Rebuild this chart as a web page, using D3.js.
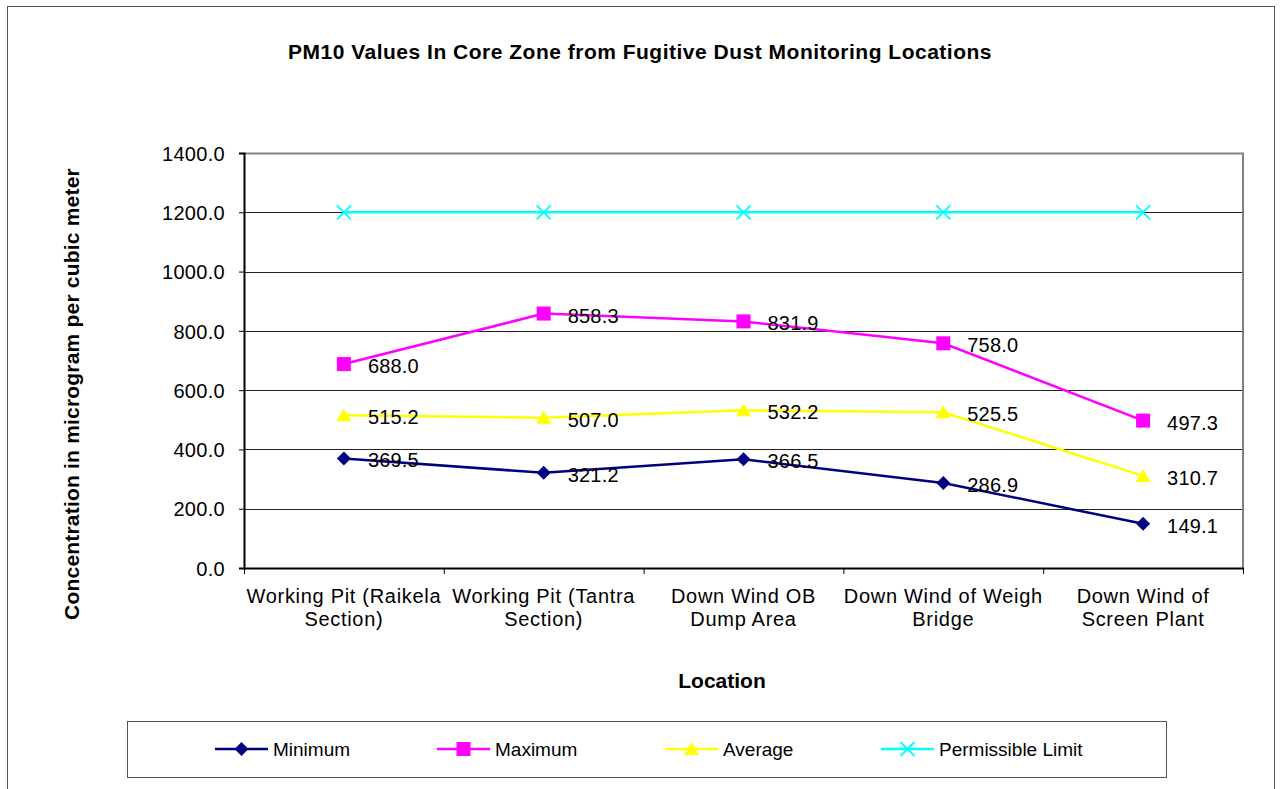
<!DOCTYPE html>
<html>
<head>
<meta charset="utf-8">
<script src="https://cdn.jsdelivr.net/npm/d3@7"></script>
<style>
  body { margin: 0; background: #fff; }
  text { font-family: "Liberation Sans", Arial, sans-serif; fill: #000; }
</style>
</head>
<body>
<div id="chart"></div>
<script>
// Data
var locations = [
  ["Working Pit (Raikela", "Section)"],
  ["Working Pit (Tantra", "Section)"],
  ["Down Wind OB", "Dump Area"],
  ["Down Wind of Weigh", "Bridge"],
  ["Down Wind of", "Screen Plant"]
];
var minimumValues = [369.5, 321.2, 366.5, 286.9, 149.1];
var maximumValues = [688.0, 858.3, 831.9, 758.0, 497.3];
var averageValues = [515.2, 507.0, 532.2, 525.5, 310.7];
var limitValues = [1200, 1200, 1200, 1200, 1200];
var yTicks = [0, 200, 400, 600, 800, 1000, 1200, 1400];

var seriesList = [
  { name: "Minimum", values: minimumValues, color: "#000080", marker: "diamond", labels: true },
  { name: "Maximum", values: maximumValues, color: "#FF00FF", marker: "square", labels: true },
  { name: "Average", values: averageValues, color: "#FFFF00", marker: "triangle", labels: true },
  { name: "Permissible Limit", values: limitValues, color: "#00FFFF", marker: "cross", labels: false }
];

var svgWidth = 1287;
var svgHeight = 789;

// plot area
var plot = { left: 244, top: 153, right: 1243, bottom: 568 };
var width = plot.right - plot.left;
var height = plot.bottom - plot.top;

var svg = d3.select("#chart")
  .append("svg")
    .attr("width", svgWidth)
    .attr("height", svgHeight);

// outer chart border
svg.append("rect")
  .attr("x", 7.5).attr("y", 6.5)
  .attr("width", 1267).attr("height", 800)
  .attr("fill", "none")
  .attr("stroke", "#555")
  .attr("stroke-width", 1);

// title
svg.append("text")
  .attr("x", 640).attr("y", 59)
  .attr("text-anchor", "middle")
  .style("font-size", "21px")
  .style("font-weight", "bold")
  .style("letter-spacing", "0.5px")
  .text("PM10 Values In Core Zone from Fugitive Dust Monitoring Locations");

var g = svg.append("g")
  .attr("transform", `translate(${plot.left}, ${plot.top})`);

var xScale = d3.scaleBand()
  .domain(d3.range(locations.length))
  .range([0, width]);

var yScale = d3.scaleLinear()
  .domain([0, 1400])
  .range([height, 0]);

// gridlines
g.selectAll("line.grid")
  .data(yTicks.filter(d => d > 0 && d < 1400))
  .enter()
  .append("line")
  .attr("class", "grid")
  .attr("x1", 0).attr("x2", width)
  .attr("y1", d => Math.round(yScale(d)) + 0.5)
  .attr("y2", d => Math.round(yScale(d)) + 0.5)
  .attr("stroke", "#222")
  .attr("stroke-width", 1);

// top and right plot border (gray)
g.append("path")
  .attr("d", `M0,0.5H${width}V${height}`)
  .attr("fill", "none")
  .attr("stroke", "#808080")
  .attr("stroke-width", 2);

// y axis
var leftAxis = d3.axisLeft(yScale)
  .tickValues(yTicks)
  .tickFormat(d3.format(".1f"))
  .tickSize(5)
  .tickPadding(14);

var yAxisG = g.append("g").call(leftAxis);
yAxisG.select(".domain").attr("stroke", "#000").attr("stroke-width", 2);
yAxisG.selectAll(".tick line").attr("stroke", "#000");
yAxisG.selectAll("text")
  .attr("dy", "0.36em")
  .style("font-size", "20px")
  .style("letter-spacing", "0.3px")
  .style("font-family", "'Liberation Sans', Arial, sans-serif");

// x axis
var xTickScale = d3.scaleLinear().domain([0, locations.length]).range([0, width]);
var bottomAxis = d3.axisBottom(xTickScale)
  .tickValues(d3.range(locations.length + 1))
  .tickFormat("")
  .tickSize(6)
  .tickSizeOuter(0);

var xAxisG = g.append("g")
  .attr("transform", `translate(0, ${height})`)
  .call(bottomAxis);
xAxisG.select(".domain").attr("stroke", "#000").attr("stroke-width", 2);
xAxisG.selectAll(".tick line").attr("stroke", "#000");

// category labels (two lines)
var catLabels = g.selectAll("text.cat")
  .data(locations)
  .enter()
  .append("text")
  .attr("class", "cat")
  .attr("text-anchor", "middle")
  .attr("x", (d, i) => xScale(i) + xScale.bandwidth() / 2)
  .attr("y", height + 35)
  .style("font-size", "20px")
  .style("letter-spacing", "0.7px");
catLabels.selectAll("tspan")
  .data(d => d)
  .enter()
  .append("tspan")
  .attr("x", function () { return d3.select(this.parentNode).attr("x"); })
  .attr("dy", (d, i) => i === 0 ? 0 : 23)
  .text(d => d);

// axis titles
svg.append("text")
  .attr("transform", "translate(79, 394) rotate(-90)")
  .attr("text-anchor", "middle")
  .style("font-size", "21px")
  .style("font-weight", "bold")
  .style("letter-spacing", "0.2px")
  .text("Concentration in microgram per cubic meter");

svg.append("text")
  .attr("x", 722).attr("y", 688)
  .attr("text-anchor", "middle")
  .style("font-size", "21px")
  .style("font-weight", "bold")
  .text("Location");

// marker drawing helper
function drawMarker(sel, type, color) {
  if (type === "diamond") {
    sel.append("path").attr("d", "M0,-7L7,0L0,7L-7,0Z").attr("fill", color);
  } else if (type === "square") {
    sel.append("rect").attr("x", -7).attr("y", -7).attr("width", 14).attr("height", 14).attr("fill", color);
  } else if (type === "triangle") {
    sel.append("path").attr("d", "M0,-7L7.5,6L-7.5,6Z").attr("fill", color);
  } else if (type === "cross") {
    sel.append("path").attr("d", "M-7,-7L7,7M-7,7L7,-7").attr("stroke", color).attr("stroke-width", 1.8).attr("fill", "none");
  }
}

var line = d3.line()
  .x((d, i) => xScale(i) + xScale.bandwidth() / 2)
  .y(d => yScale(d));

// lines, markers, labels
seriesList.forEach(function (s) {
  g.append("path")
    .datum(s.values)
    .attr("d", line)
    .attr("fill", "none")
    .attr("stroke", s.color)
    .attr("stroke-width", 2.5);
});

seriesList.forEach(function (s) {
  var pts = g.selectAll(null)
    .data(s.values)
    .enter()
    .append("g")
    .attr("transform", (d, i) => `translate(${xScale(i) + xScale.bandwidth() / 2}, ${yScale(d)})`);
  drawMarker(pts, s.marker, s.color);
});

seriesList.filter(s => s.labels).forEach(function (s) {
  g.selectAll(null)
    .data(s.values)
    .enter()
    .append("text")
    .attr("x", (d, i) => xScale(i) + xScale.bandwidth() / 2 + 24)
    .attr("y", d => yScale(d) + 9)
    .style("font-size", "20px")
    .style("letter-spacing", "0.2px")
    .text(d => d.toFixed(1));
});

// legend
var legend = svg.append("g");
legend.append("rect")
  .attr("x", 127.5).attr("y", 721.5)
  .attr("width", 1039).attr("height", 56)
  .attr("fill", "#fff")
  .attr("stroke", "#555")
  .attr("stroke-width", 1);

var legendX = [215, 437, 665, 881];
seriesList.forEach(function (s, i) {
  var item = legend.append("g").attr("transform", `translate(${legendX[i]}, 749)`);
  item.append("line")
    .attr("x1", 0).attr("x2", 53)
    .attr("stroke", s.color).attr("stroke-width", 2.5);
  var m = item.append("g").attr("transform", "translate(26.5, 0)");
  drawMarker(m, s.marker, s.color);
  item.append("text")
    .attr("x", 58).attr("y", 7)
    .style("font-size", "19px")
    .text(s.name);
});
</script>
</body>
</html>
